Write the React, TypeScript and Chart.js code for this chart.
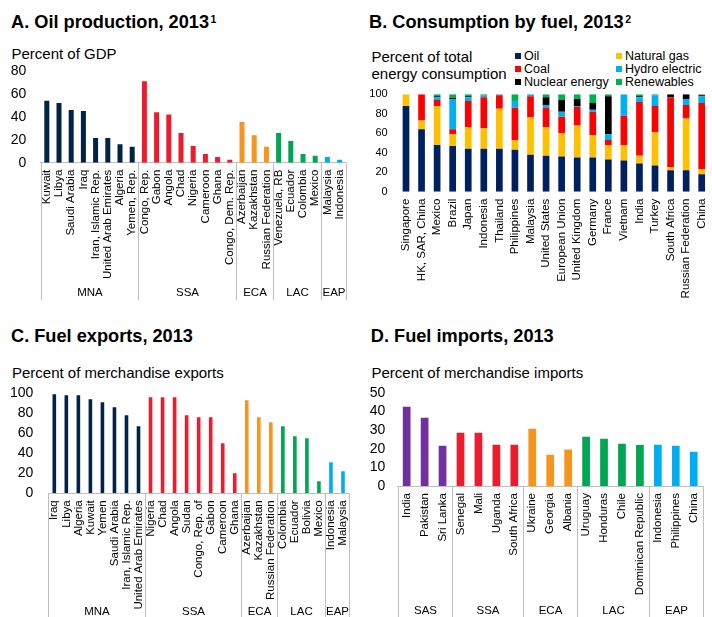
import React, { useEffect, useRef } from 'react';
import { Chart, registerables } from 'chart.js';

Chart.register(...registerables);

const FONT = "'Liberation Sans', Arial, Helvetica, sans-serif";
Chart.defaults.font.family = FONT;
Chart.defaults.color = '#000';

// ---------- Panel A: Oil production, percent of GDP ----------
const aCountries = ['Kuwait', 'Libya', 'Saudi Arabia', 'Iraq', 'Iran, Islamic Rep.', 'United Arab Emirates', 'Algeria', 'Yemen, Rep.',
  'Congo, Rep.', 'Gabon', 'Angola', 'Chad', 'Nigeria', 'Cameroon', 'Ghana', 'Congo, Dem. Rep.',
  'Azerbaijan', 'Kazakhstan', 'Russian Federation',
  'Venezuela, RB', 'Ecuador', 'Colombia', 'Mexico',
  'Malaysia', 'Indonesia'];
const aValues = [54, 52, 46, 45, 21.5, 21.5, 16, 14, 71, 44, 42, 26, 14.5, 7.5, 5, 2.5, 35.5, 24, 14, 26, 19, 7.5, 6, 5, 2.5];
const aGroupNames = ['MNA', 'SSA', 'ECA', 'LAC', 'EAP'];
const aGroupSizes = [8, 8, 3, 4, 2];
const aTicks = [0, 20, 40, 60, 80];

// ---------- Panel B: Consumption by fuel ----------
const bCountries = ['Singapore', 'HK, SAR, China', 'Mexico', 'Brazil', 'Japan', 'Indonesia', 'Thailand', 'Philippines', 'Malaysia',
  'United States', 'European Union', 'United Kingdom', 'Germany', 'France', 'Vietnam', 'India', 'Turkey', 'South Africa',
  'Russian Federation', 'China'];
const bSeriesNames = ['Oil', 'Natural gas', 'Coal', 'Hydro electric', 'Nuclear energy', 'Renewables'];
const bOil = [88, 64, 48, 47, 44, 44, 44, 43, 38, 37, 36, 35, 35, 33, 32, 29, 27, 22, 22, 18];
const bGas = [12, 9, 40, 12, 22, 21, 41, 10, 38, 29, 24, 33, 23, 15, 16, 8, 34, 3, 53, 5];
const bCoal = [0, 27, 6, 5, 27, 32, 14, 33, 22, 20, 17, 19, 24, 5, 30, 55, 27, 72, 14, 68];
const bHydro = [0, 0, 3, 31, 4, 2, 1, 7, 2, 3, 5, 1, 2, 6, 22, 5, 11, 0, 6, 7];
const bNuclear = [0, 0, 1, 1, 1, 0, 0, 0, 0, 8, 12, 7, 7, 39, 0, 1, 0, 3, 5, 1];
const bRenewables = [0, 0, 2, 4, 2, 1, 0, 7, 0, 3, 6, 5, 9, 2, 0, 2, 1, 0, 0, 1];
const bTicks = [0, 20, 40, 60, 80, 100];

// ---------- Panel C: Fuel exports ----------
const cCountries = ['Iraq', 'Libya', 'Algeria', 'Kuwait', 'Yemen', 'Saudi Arabia', 'Iran, Islamic Rep.', 'United Arab Emirates',
  'Nigeria', 'Chad', 'Angola', 'Sudan', 'Congo, Rep. of', 'Gabon', 'Cameroon', 'Ghana',
  'Azerbaijan', 'Kazakhstan', 'Russian Federation',
  'Colombia', 'Ecuador', 'Bolivia', 'Mexico',
  'Indonesia', 'Malaysia'];
const cValues = [99, 98, 98, 94, 91, 86, 78, 67, 96, 96, 96, 78, 76, 76, 50, 20, 93, 76, 71, 67, 57, 55, 12, 31, 22];
const cGroupNames = ['MNA', 'SSA', 'ECA', 'LAC', 'EAP'];
const cGroupSizes = [8, 8, 3, 4, 2];
const cTicks = [0, 20, 40, 60, 80, 100];

// ---------- Panel D: Fuel imports ----------
const dCountries = ['India', 'Pakistan', 'Sri Lanka', 'Senegal', 'Mali', 'Uganda', 'South Africa', 'Ukraine', 'Georgia', 'Albania',
  'Uruguay', 'Honduras', 'Chile', 'Dominican Republic', 'Indonesia', 'Philippines', 'China'];
const dValues = [42.5, 36.6, 21.6, 28.6, 28.6, 22.1, 22.1, 30.7, 16.8, 19.5, 26.4, 25.3, 22.7, 22, 22.1, 21.6, 18.4];
const dGroupNames = ['SAS', 'SSA', 'ECA', 'LAC', 'EAP'];
const dGroupSizes = [3, 4, 3, 4, 3];
const dTicks = [0, 10, 20, 30, 40, 50];

// ---------- styles ----------
const groupColors: Record<string, string> = {
  MNA: '#002347', SSA: '#eb1c2d', ECA: '#f7941d', LAC: '#00a651', EAP: '#00aeef', SAS: '#7030a0',
};
const fuelColors = ['#002060', '#ffc000', '#ff0000', '#00b0f0', '#000000', '#00b050'];

function colorsFor(names: string[], sizes: number[]) {
  const out: string[] = [];
  names.forEach((g, i) => { for (let k = 0; k < sizes[i]; k++) out.push(groupColors[g]); });
  return out;
}

const groupPlugin = {
  id: 'groupBands',
  afterDraw(chart: any, _args: any, opts: any) {
    if (!opts || !opts.names) return;
    const { ctx, chartArea } = chart;
    const x = chart.scales.x;
    const bounds = [0];
    let acc = 0;
    opts.sizes.forEach((s: number) => { acc += s; bounds.push(acc); });
    const bx = bounds.map((b) => Math.round(x.getPixelForValue(b - 0.5)) + 0.5);
    ctx.save();
    ctx.strokeStyle = '#bfbfbf';
    ctx.lineWidth = 1;
    bx.forEach((px) => {
      ctx.beginPath();
      ctx.moveTo(px, chartArea.bottom);
      ctx.lineTo(px, opts.lineEnd);
      ctx.stroke();
    });
    ctx.fillStyle = '#000';
    ctx.font = `11.5px ${FONT}`;
    ctx.textAlign = 'center';
    ctx.textBaseline = 'middle';
    opts.names.forEach((n: string, i: number) => ctx.fillText(n, (bx[i] + bx[i + 1]) / 2, opts.labelY));
    ctx.restore();
  },
};

type Layout = { yW: number; xH: number; padTop: number; padRight: number; yPad: number; tickSize: number; axisLine: boolean };

function scales(l: Layout, ticks: number[], stacked: boolean) {
  return {
    x: {
      stacked,
      offset: true,
      grid: { display: false, drawTicks: false },
      border: { display: l.axisLine, color: '#bfbfbf', width: 1 },
      ticks: { autoSkip: false, minRotation: 90, maxRotation: 90, padding: 7, color: '#000', font: { size: 11.5 } },
      afterFit: (s: any) => { s.height = l.xH; s.paddingLeft = 0; s.paddingRight = 0; },
    },
    y: {
      stacked,
      min: ticks[0],
      max: ticks[ticks.length - 1],
      grid: { display: false, drawTicks: false },
      border: { display: false },
      ticks: { autoSkip: false, stepSize: ticks[1] - ticks[0], padding: l.yPad, color: '#000', font: { size: l.tickSize } },
      afterFit: (s: any) => { s.width = l.yW; s.paddingTop = 0; s.paddingBottom = 0; },
    },
  };
}

function simpleConfig(labels: string[], values: number[], gNames: string[], gSizes: number[], ticks: number[], l: Layout, barPct: number, labelY: number, lineEnd: number) {
  return {
    type: 'bar' as const,
    data: {
      labels,
      datasets: [{ data: values, backgroundColor: colorsFor(gNames, gSizes), barPercentage: barPct, categoryPercentage: 1 }],
    },
    options: {
      responsive: false,
      animation: false as const,
      events: [] as any[],
      layout: { padding: { left: 0, right: l.padRight, top: l.padTop, bottom: 0 } },
      plugins: {
        legend: { display: false },
        tooltip: { enabled: false },
        groupBands: { names: gNames, sizes: gSizes, labelY, lineEnd },
      },
      scales: scales(l, ticks, false),
    },
    plugins: [groupPlugin],
  };
}

function stackedConfig() {
  const series = [bOil, bGas, bCoal, bHydro, bNuclear, bRenewables];
  const l: Layout = { yW: 42.2, xH: 118.3, padTop: 14.2, padRight: 2.5, yPad: 10.5, tickSize: 11, axisLine: false };
  return {
    type: 'bar' as const,
    data: {
      labels: bCountries,
      datasets: series.map((d, i) => ({
        label: bSeriesNames[i], data: d, backgroundColor: fuelColors[i], barPercentage: 0.43, categoryPercentage: 1,
      })),
    },
    options: {
      responsive: false,
      animation: false as const,
      events: [] as any[],
      layout: { padding: { left: 0, right: l.padRight, top: l.padTop, bottom: 0 } },
      plugins: { legend: { display: false }, tooltip: { enabled: false } },
      scales: scales(l, bTicks, true),
    },
  };
}

function ChartCanvas({ left, top, width, height, make }: { left: number; top: number; width: number; height: number; make: () => any }) {
  const ref = useRef<HTMLCanvasElement | null>(null);
  useEffect(() => {
    if (!ref.current) return;
    const c = new Chart(ref.current, make());
    return () => c.destroy();
  }, []);
  return <canvas ref={ref} width={width} height={height} style={{ position: 'absolute', left, top, width, height }} />;
}

const titleStyle = (left: number, top: number): React.CSSProperties => ({
  position: 'absolute', left, top, fontFamily: FONT, fontWeight: 'bold', fontSize: 18.2, lineHeight: '18px', whiteSpace: 'nowrap', color: '#000',
});
const subStyle = (left: number, top: number): React.CSSProperties => ({
  position: 'absolute', left, top, fontFamily: FONT, fontSize: 15, lineHeight: '17px', whiteSpace: 'nowrap', color: '#000',
});
const supStyle: React.CSSProperties = { fontSize: 10.5, position: 'relative', top: -5, marginLeft: 1.5 };

export default function App() {
  const aLayout: Layout = { yW: 40.7, xH: 147.3, padTop: 11, padRight: 10.3, yPad: 14.5, tickSize: 14, axisLine: true };
  const cLayout: Layout = { yW: 48.3, xH: 123.7, padTop: 13.3, padRight: 7, yPad: 15, tickSize: 14, axisLine: true };
  const dLayout: Layout = { yW: 41.7, xH: 131, padTop: 12.7, padRight: 9.3, yPad: 12.5, tickSize: 14, axisLine: true };

  return (
    <div style={{ position: 'absolute', left: 0, top: 0, width: 712, height: 617, background: '#fff', overflow: 'hidden' }}>
      <div style={titleStyle(11, 12.6)}>A. Oil production, 2013<span style={supStyle}>1</span></div>
      <div style={subStyle(11.5, 45)}>Percent of GDP</div>
      <ChartCanvas left={0} top={60} width={356} height={250}
        make={() => simpleConfig(aCountries, aValues, aGroupNames, aGroupSizes, aTicks, aLayout, 0.41, 233.3, 240)} />

      <div style={titleStyle(369, 12.6)}>B. Consumption by fuel, 2013<span style={supStyle}>2</span></div>
      <div style={subStyle(371.5, 47.5)}>Percent of total<br />energy consumption</div>
      {bSeriesNames.map((name, i) => {
        const col = i % 2;
        const row = Math.floor(i / 2);
        const x = col === 0 ? 515 : 616;
        const y = 56 + row * 13;
        return (
          <div key={name} style={{ position: 'absolute', left: x, top: y - 7, height: 14, display: 'flex', alignItems: 'center', fontFamily: FONT, fontSize: 12.5, whiteSpace: 'nowrap', color: '#000' }}>
            <span style={{ display: 'inline-block', width: 6, height: 6, background: fuelColors[i], marginRight: 3 }} />
            <span>{name}</span>
          </div>
        );
      })}
      <ChartCanvas left={356} top={80} width={356} height={230} make={stackedConfig} />

      <div style={titleStyle(11, 327.3)}>C. Fuel exports, 2013</div>
      <div style={subStyle(12, 364)}>Percent of merchandise exports</div>
      <ChartCanvas left={0} top={380} width={356} height={237}
        make={() => simpleConfig(cCountries, cValues, cGroupNames, cGroupSizes, cTicks, cLayout, 0.3, 232, 237)} />

      <div style={titleStyle(370.8, 327.3)}>D. Fuel imports, 2013</div>
      <div style={subStyle(371.5, 364)}>Percent of merchandise imports</div>
      <ChartCanvas left={356} top={380} width={356} height={237}
        make={() => simpleConfig(dCountries, dValues, dGroupNames, dGroupSizes, dTicks, dLayout, 0.43, 230.5, 237)} />
    </div>
  );
}
